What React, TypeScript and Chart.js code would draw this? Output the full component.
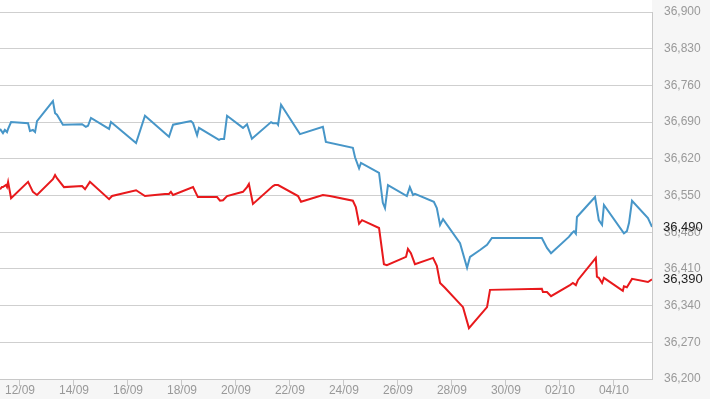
import React, { useEffect, useRef } from "react";
import { Chart, registerables } from "chart.js";

Chart.register(...registerables);

// x values are day numbers (September day; October days = 30 + day)
const TICK_DAYS = [12, 14, 16, 18, 20, 22, 24, 26, 28, 30, 32, 34];
const TICK_LABELS = ["12/09", "14/09", "16/09", "18/09", "20/09", "22/09", "24/09", "26/09", "28/09", "30/09", "02/10", "04/10"];

const X_MIN = 11.26;
const X_MAX = 35.41;
const Y_MIN = 36200;
const Y_MAX = 36900;
const Y_STEP = 70;

const BLUE_DAYS = [
  11.26, 11.37, 11.44, 11.52, 11.56, 11.67, 12.3, 12.37, 12.48, 12.56, 12.63, 13.22, 13.3, 13.37, 13.59,
  14.3, 14.44, 14.52, 14.63, 15.3, 15.37, 16.3, 16.63, 17.52, 17.67, 18.33, 18.41, 18.56, 18.63, 19.37,
  19.44, 19.56, 19.67, 20.26, 20.41, 20.59, 21.3, 21.37, 21.52, 21.56, 21.67, 22.37, 23.22, 23.33, 24.33,
  24.41, 24.56, 24.63, 25.3, 25.44, 25.52, 25.63, 26.33, 26.44, 26.56, 26.63, 27.33, 27.44, 27.56, 27.67,
  28.3, 28.56, 28.67, 29.04, 29.3, 29.48, 31.33, 31.52, 31.67, 32.33, 32.44, 32.52, 32.59, 32.63, 33.3,
  33.44, 33.56, 33.63, 34.37, 34.48, 34.56, 34.67, 35.26, 35.41,
];
const BLUE_VALUES = [
  36677, 36669, 36675, 36671, 36677, 36690, 36688, 36673, 36675, 36671, 36692, 36730, 36707, 36704, 36685,
  36686, 36681, 36683, 36698, 36677, 36690, 36650, 36702, 36662, 36685, 36692, 36688, 36665, 36679, 36656,
  36658, 36658, 36702, 36679, 36686, 36658, 36690, 36688, 36688, 36685, 36723, 36667, 36681, 36652, 36641,
  36623, 36602, 36612, 36593, 36536, 36526, 36570, 36549, 36566, 36551, 36553, 36538, 36526, 36494, 36505,
  36459, 36412, 36433, 36446, 36456, 36469, 36469, 36450, 36440, 36471, 36478, 36482, 36477, 36509, 36547,
  36503, 36494, 36532, 36478, 36482, 36498, 36540, 36507, 36490,
];

const RED_DAYS = [
  11.26, 11.33, 11.37, 11.48, 11.52, 11.56, 11.67, 12.3, 12.48, 12.63, 13.22, 13.3, 13.37, 13.63, 14.3,
  14.41, 14.59, 15.3, 15.41, 16.3, 16.63, 17.37, 17.52, 17.59, 17.67, 18.41, 18.59, 19.3, 19.41, 19.52,
  19.67, 20.26, 20.41, 20.48, 20.63, 21.37, 21.44, 21.56, 22.3, 22.41, 23.22, 23.48, 24.33, 24.44, 24.56,
  24.67, 25.3, 25.48, 25.59, 26.3, 26.37, 26.48, 26.63, 27.3, 27.44, 27.56, 27.74, 28.41, 28.63, 29.3,
  29.41, 31.33, 31.37, 31.52, 31.67, 32.37, 32.48, 32.59, 32.67, 33.33, 33.37, 33.44, 33.56, 33.63, 34.33,
  34.37, 34.48, 34.67, 35.26, 35.41,
];
const RED_VALUES = [
  36562, 36566, 36566, 36570, 36566, 36576, 36545, 36576, 36557, 36551, 36581, 36589, 36583, 36566, 36568,
  36562, 36576, 36543, 36549, 36560, 36549, 36553, 36553, 36557, 36551, 36566, 36547, 36547, 36540, 36541,
  36549, 36557, 36566, 36572, 36534, 36568, 36570, 36570, 36549, 36538, 36551, 36549, 36540, 36528, 36496,
  36503, 36488, 36419, 36417, 36433, 36448, 36440, 36419, 36431, 36416, 36383, 36374, 36337, 36297, 36337,
  36370, 36372, 36366, 36366, 36358, 36379, 36383, 36379, 36389, 36431, 36395, 36393, 36383, 36393, 36368,
  36377, 36375, 36391, 36385, 36390,
];

const BLUE = "#4796c8";
const RED = "#e8191c";

const fmt = (v: number) => Math.round(v).toLocaleString("en-US");

const bgPlugin = {
  id: "plotBg",
  beforeDraw(chart: any) {
    const { ctx, chartArea } = chart;
    ctx.save();
    ctx.fillStyle = "#ffffff";
    ctx.fillRect(0, 0, chartArea.right, chartArea.bottom);
    ctx.restore();
  },
};

const lastLabelPlugin = {
  id: "lastLabels",
  afterDraw(chart: any) {
    const { ctx, chartArea } = chart;
    ctx.save();
    ctx.font = "13px 'Liberation Sans', Arial, sans-serif";
    ctx.fillStyle = "#222222";
    ctx.textAlign = "left";
    ctx.textBaseline = "middle";
    chart.data.datasets.forEach((ds: any, i: number) => {
      const meta = chart.getDatasetMeta(i);
      const pt = meta.data[meta.data.length - 1];
      const last = ds.data[ds.data.length - 1];
      ctx.fillText(fmt(last.y), chartArea.right + 11, pt.y);
    });
    ctx.restore();
  },
};

export default function App() {
  const ref = useRef<HTMLCanvasElement>(null);
  useEffect(() => {
    if (!ref.current) return;
    const chart = new Chart(ref.current, {
      type: "line",
      data: {
        datasets: [
          {
            label: "blue",
            data: BLUE_DAYS.map((d, i) => ({ x: d, y: BLUE_VALUES[i] })),
            borderColor: BLUE,
            borderWidth: 2,
            pointRadius: 0,
            tension: 0,
            fill: false,
          },
          {
            label: "red",
            data: RED_DAYS.map((d, i) => ({ x: d, y: RED_VALUES[i] })),
            borderColor: RED,
            borderWidth: 2,
            pointRadius: 0,
            tension: 0,
            fill: false,
          },
        ],
      },
      options: {
        animation: false,
        responsive: false,
        maintainAspectRatio: false,
        layout: { padding: { top: 12, left: 0, right: 0, bottom: 0 } },
        plugins: { legend: { display: false }, tooltip: { enabled: false } },
        scales: {
          x: {
            type: "linear",
            min: X_MIN,
            max: X_MAX,
            afterBuildTicks: (scale: any) => {
              scale.ticks = TICK_DAYS.map((v) => ({ value: v }));
            },
            afterFit: (scale: any) => {
              scale.height = 20;
              scale.paddingLeft = 0;
              scale.paddingRight = 0;
            },
            grid: {
              drawOnChartArea: false,
              drawTicks: true,
              tickLength: 7,
              color: "#c8c8c8",
            },
            border: { display: true, color: "#c8c8c8" },
            ticks: {
              autoSkip: false,
              maxRotation: 0,
              padding: -3,
              color: "#999999",
              font: { family: "'Liberation Sans', Arial, sans-serif", size: 12 },
              callback: (v: any) => {
                const idx = TICK_DAYS.indexOf(Number(v));
                return idx >= 0 ? TICK_LABELS[idx] : "";
              },
            },
          },
          y: {
            position: "right",
            min: Y_MIN,
            max: Y_MAX,
            afterFit: (scale: any) => {
              scale.width = 58;
              scale.paddingTop = 0;
              scale.paddingBottom = 0;
            },
            grid: { drawTicks: false, color: "#cfcfcf", lineWidth: 1 },
            border: { display: true, color: "#c8c8c8" },
            ticks: {
              stepSize: Y_STEP,
              padding: 12,
              color: "#999999",
              font: { family: "'Liberation Sans', Arial, sans-serif", size: 12 },
              callback: (v: any) => fmt(Number(v)),
            },
          },
        },
      },
      plugins: [bgPlugin, lastLabelPlugin],
    });
    return () => chart.destroy();
  }, []);
  return (
    <div style={{ position: "fixed", left: 0, top: 0, width: 710, height: 399, background: "#f6f6f6" }}>
      <canvas ref={ref} width={710} height={399} style={{ display: "block", width: 710, height: 399 }} />
    </div>
  );
}
